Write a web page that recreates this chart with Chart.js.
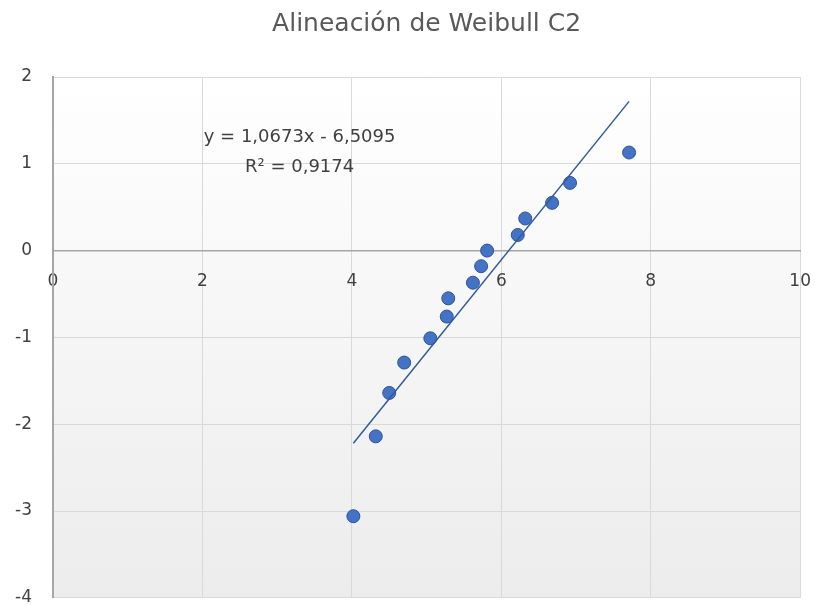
<!DOCTYPE html>
<html>
<head>
<meta charset="utf-8">
<script src="https://cdn.jsdelivr.net/npm/chart.js@4.4.1/dist/chart.umd.min.js"></script>
<style>
  html, body { margin: 0; padding: 0; background: #fff; overflow: hidden; }
  #wrap { width: 811px; height: 629px; position: relative; }
</style>
</head>
<body>
<div id="wrap"><canvas id="myChart"></canvas></div>
<script>
// datos
const xValues = [4.02, 4.32, 4.50, 4.70, 5.05, 5.27, 5.29, 5.62, 5.73, 5.81, 6.22, 6.32, 6.68, 6.92, 7.71];
const yValues = [-3.06, -2.14, -1.64, -1.29, -1.01, -0.76, -0.55, -0.37, -0.18, 0.00, 0.18, 0.37, 0.55, 0.78, 1.13];

// linea de tendencia (del texto del grafico)
const slope = 1.0673;
const intercept = -6.5095;
const eqLabel = "y = 1,0673x - 6,5095";
const r2Label = "R² = 0,9174";

const chartTitle = "Alineación de Weibull C2";
const fontFamily = "'DejaVu Sans', sans-serif";

document.addEventListener("DOMContentLoaded", function () {
  const ctx = document.getElementById("myChart").getContext("2d");

  const points = xValues.map((x, i) => ({ x: x, y: yValues[i] }));
  const xMin = Math.min(...xValues);
  const xMax = Math.max(...xValues);
  const trend = [
    { x: xMin, y: slope * xMin + intercept },
    { x: xMax, y: slope * xMax + intercept },
  ];

  // fondo del area de trazado con degradado
  const plotBackground = {
    id: "plotBackground",
    beforeDraw(chart) {
      const { ctx, chartArea } = chart;
      const g = ctx.createLinearGradient(0, chartArea.top, 0, chartArea.bottom);
      g.addColorStop(0, "#ffffff");
      g.addColorStop(1, "#ececec");
      ctx.save();
      ctx.fillStyle = g;
      ctx.fillRect(chartArea.left, chartArea.top, chartArea.width, chartArea.height);
      ctx.restore();
    },
  };

  // etiqueta de la ecuacion
  const equationLabel = {
    id: "equationLabel",
    afterDatasetsDraw(chart) {
      const { ctx, scales } = chart;
      const px = scales.x.getPixelForValue(3.3);
      ctx.save();
      ctx.font = "18px " + fontFamily;
      ctx.fillStyle = "#404040";
      ctx.textAlign = "center";
      ctx.textBaseline = "middle";
      ctx.fillText(eqLabel, px, scales.y.getPixelForValue(1.30));
      ctx.fillText(r2Label, px, scales.y.getPixelForValue(0.96));
      ctx.restore();
    },
  };

  new Chart(ctx, {
    type: "scatter",
    data: {
      datasets: [
        {
          label: "tendencia",
          type: "line",
          data: trend,
          borderColor: "#2f5c9a",
          borderWidth: 1.5,
          pointRadius: 0,
          fill: false,
          order: 0,
        },
        {
          label: "C2",
          data: points,
          backgroundColor: "#4472c4",
          borderColor: "#2f5597",
          borderWidth: 1,
          pointRadius: 6.5,
          order: 1,
        },
      ],
    },
    options: {
      responsive: true,
      maintainAspectRatio: false,
      animation: false,
      layout: { padding: { left: 0, right: 3, top: 0, bottom: 7 } },
      plugins: {
        legend: { display: false },
        tooltip: { enabled: false },
        title: {
          display: true,
          fullSize: false,
          text: chartTitle,
          color: "#595959",
          font: { family: fontFamily, size: 25, weight: "normal" },
          padding: { top: 9, bottom: 38 },
        },
      },
      scales: {
        x: {
          type: "linear",
          min: 0,
          max: 10,
          position: { y: 0 },
          afterFit: (scale) => { scale.height = 0; },
          ticks: {
            stepSize: 2,
            color: "#404040",
            font: { family: fontFamily, size: 17 },
            padding: 0,
          },
          grid: {
            color: "#d9d9d9",
            drawTicks: true,
            tickLength: 21,
            tickColor: "rgba(0,0,0,0)",
          },
          border: { color: "#a6a6a6", width: 1.5 },
        },
        y: {
          type: "linear",
          min: -4,
          max: 2,
          afterFit: (scale) => { scale.width = 53; },
          ticks: {
            stepSize: 1,
            color: "#404040",
            font: { family: fontFamily, size: 17 },
            padding: 21,
          },
          grid: { color: "#d9d9d9", drawTicks: false },
          border: { color: "#a6a6a6", width: 2 },
        },
      },
    },
    plugins: [plotBackground, equationLabel],
  });
});
</script>
</body>
</html>
